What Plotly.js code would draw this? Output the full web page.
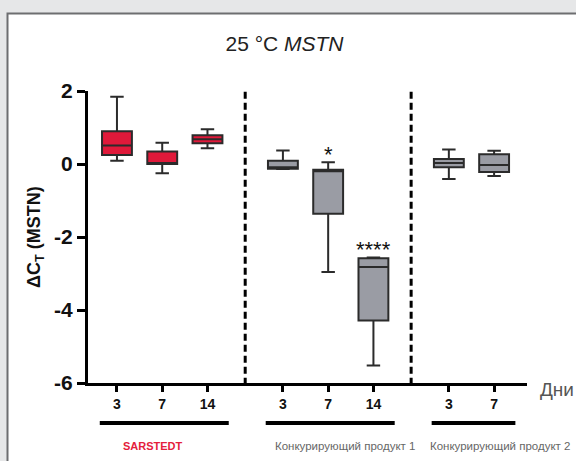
<!DOCTYPE html>
<html>
<head>
<meta charset="utf-8">
<script src="https://cdn.plot.ly/plotly-3.0.1.min.js"></script>
<style>html,body{margin:0;padding:0;background:#e6e7e8;}#chart{width:576px;height:461px;}</style>
</head>
<body>
<div id="chart"></div>
<script>
// ---- data ----
const groups = ['SARSTEDT', 'Конкурирующий продукт 1', 'Конкурирующий продукт 2'];
const days = [['3', '7', '14'], ['3', '7', '14'], ['3', '7']];
const upperfence = [[1.84, 0.58, 0.95], [0.37, 0.05, -2.56], [0.40, 0.36]];
const q3 = [[0.90, 0.34, 0.79], [0.09, -0.16, -2.58], [0.14, 0.27]];
const median = [[0.51, 0.03, 0.68], [-0.09, -0.20, -2.82], [0.03, -0.03]];
const q1 = [[0.25, 0.00, 0.57], [-0.13, -1.36, -4.29], [-0.09, -0.22]];
const lowerfence = [[0.09, -0.25, 0.43], [-0.14, -2.96, -5.52], [-0.41, -0.33]];
const significance = [['', '', ''], ['', '*', '****'], ['', '']];
const yTicks = [-6, -4, -2, 0, 2];

// ---- layout helpers ----
const groupStep = 11 / 3;
const groupColors = ['#e0193a', '#9a9ca4'];
const font = 'Liberation Sans, Arial, Helvetica, sans-serif';

const traces = [];
const tickvals = [], ticktext = [];
const shapes = [];
const annotations = [];

groups.forEach((g, gi) => {
  const start = gi * groupStep;
  const xs = days[gi].map((d, i) => start + i);
  xs.forEach((x, i) => { tickvals.push(x); ticktext.push(days[gi][i]); });
  traces.push({
    type: 'box',
    name: g,
    x: xs,
    q1: q1[gi], median: median[gi], q3: q3[gi],
    lowerfence: lowerfence[gi], upperfence: upperfence[gi],
    width: 0.66,
    whiskerwidth: 0.45,
    fillcolor: gi === 0 ? groupColors[0] : groupColors[1],
    line: {color: '#2b2b2b', width: 2},
    boxpoints: false,
    hoverinfo: 'skip',
    showlegend: false
  });
  // significance marks
  xs.forEach((x, i) => {
    if (significance[gi][i]) {
      annotations.push({
        x: x, y: upperfence[gi][i], xref: 'x', yref: 'y',
        text: significance[gi][i], showarrow: false,
        yanchor: 'bottom', yshift: -7,
        font: {family: font, size: 22, color: '#111'}
      });
    }
  });
  // group underline bar
  shapes.push({
    type: 'line', xref: 'x', yref: 'paper',
    x0: start - 0.38, x1: start + (days[gi].length - 1) + 0.47,
    y0: 0.0824, y1: 0.0824,
    line: {color: '#000', width: 4}
  });
  // dashed separator
  if (gi > 0) {
    const xm = (start - groupStep + (days[gi - 1].length - 1) + start) / 2;
    shapes.push({
      type: 'line', xref: 'x', yref: 'y',
      x0: xm, x1: xm, y0: 1.98, y1: -6,
      line: {color: '#000', width: 3, dash: '7px,4px'}
    });
  }
});

// panel
shapes.unshift({
  type: 'rect', xref: 'paper', yref: 'paper', layer: 'below',
  x0: 7.5 / 576, x1: 1.05, y0: -0.05, y1: 1 - 13.5 / 461,
  fillcolor: '#ffffff', line: {color: '#6d6e70', width: 2}
});

const labelX = [0.8, 5.04, 8.47];
groups.forEach((g, gi) => {
  annotations.push({
    x: labelX[gi], y: 0.033, xref: 'x', yref: 'paper',
    text: gi === 0 ? '<b>' + g + '</b>' : g, showarrow: false,
    xanchor: 'center', yanchor: 'middle',
    font: {family: font, size: gi === 0 ? 11 : 11.5, color: gi === 0 ? '#e4203c' : '#666'}
  });
});

annotations.push({
  x: 538 / 576, y: 1 - 389 / 461, xref: 'paper', yref: 'paper',
  text: 'Дни', showarrow: false, xanchor: 'left', yanchor: 'middle',
  font: {family: font, size: 19, color: '#555'}
});
annotations.push({
  x: 35 / 576, y: -2, xref: 'paper', yref: 'y',
  text: '<b>ΔC<sub>T</sub> (MSTN)</b>', showarrow: false, textangle: -90,
  xanchor: 'center', yanchor: 'middle',
  font: {family: font, size: 18, color: '#111'}
});

const layout = {
  width: 576, height: 461,
  margin: {l: 0, r: 0, t: 0, b: 0},
  paper_bgcolor: '#e6e7e8',
  plot_bgcolor: 'rgba(0,0,0,0)',
  title: {
    text: '25 °C <i>MSTN</i>',
    x: 284.5 / 576, xanchor: 'center',
    y: 1 - 44 / 461, yanchor: 'middle', yref: 'paper',
    font: {family: font, size: 21, color: '#222'}
  },
  xaxis: {
    domain: [88 / 576, 527 / 576],
    range: [-0.64, 9.06],
    tickmode: 'array', tickvals: tickvals, ticktext: ticktext,
    showline: true, linecolor: '#000', linewidth: 3,
    ticks: 'outside', ticklen: 6, tickwidth: 3, tickcolor: '#000',
    showgrid: false, zeroline: false,
    tickfont: {family: font, size: 14, color: '#111', weight: 'bold'}
  },
  yaxis: {
    domain: [(461 - 383) / 461, (461 - 91) / 461],
    range: [-6, 2],
    tickmode: 'array', tickvals: yTicks, ticktext: yTicks.map(String),
    showline: true, linecolor: '#000', linewidth: 3,
    ticks: 'outside', ticklen: 8, tickwidth: 3, tickcolor: '#000',
    showgrid: false, zeroline: false,
    tickfont: {family: font, size: 21, color: '#111', weight: 'bold'}
  },
  shapes: shapes,
  annotations: annotations,
  showlegend: false
};

Plotly.newPlot('chart', traces, layout, {displayModeBar: false, staticPlot: true});
</script>
</body>
</html>
